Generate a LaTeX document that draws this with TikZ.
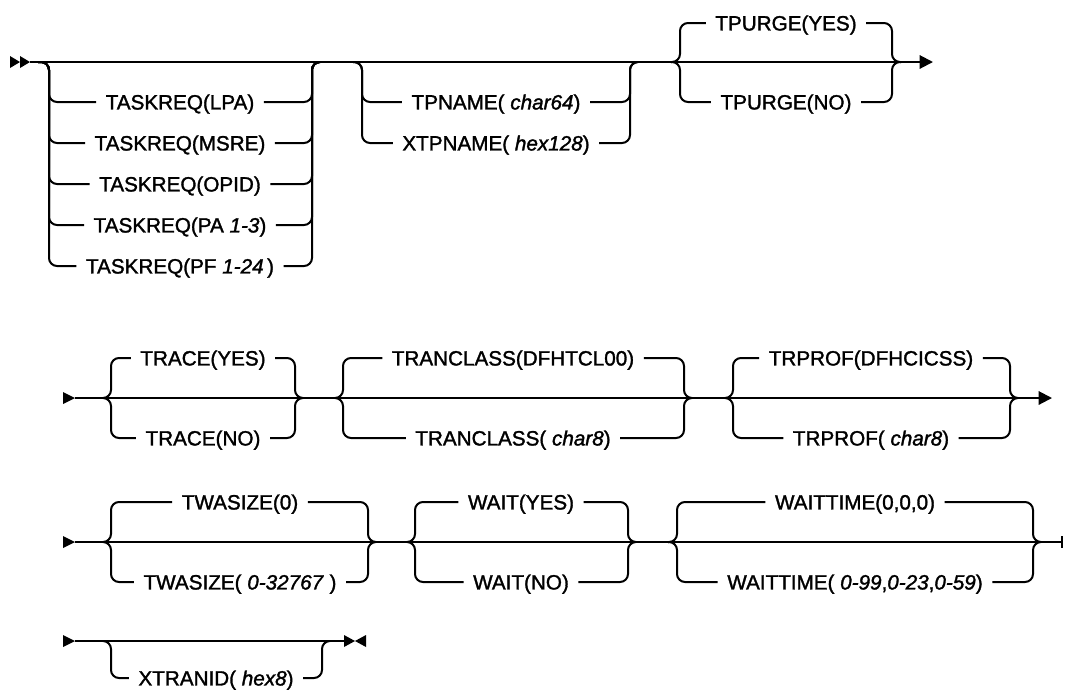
\documentclass[tikz,border=0pt]{standalone}
\usepackage{fontspec}
\setmainfont{Liberation Sans}[FakeBold=1.5]
\usepackage{tikz}
\usetikzlibrary{
  arrows.meta,  % Triangle 箭头
  calc          % 坐标计算
}
\tikzset{
  rail/.style={
    line width=1.5pt,
    rounded corners=6pt
  },
  rail end/.style={
    -{Triangle[length=10pt,width=10pt]}
  },
  choice/.style={
    inner xsep=7pt,
    inner ysep=0pt,
    text height=11.2pt,
    text depth=0pt,
    font=\fontsize{15.5}{18}\selectfont
  }
}

\begin{document}
\begin{tikzpicture}[x=0.75pt, y=-0.75pt]
    \useasboundingbox (0,0) rectangle (1066,690);

    % 1. 第一行：TASKREQ / TPNAME / TPURGE
    \coordinate (r1s) at (30,62);
    \coordinate (r1e) at (933,62);
    \fill (r1s) -- ++(-10,-6) -- ++(0,12) -- cycle;
    \fill ($(r1s)+(-10,0)$) -- ++(-10,-6) -- ++(0,12) -- cycle;
    \draw[rail, rail end] (r1s) -- (r1e);

    % 可选组 TASKREQ (主线下方)
    \coordinate (g1L) at (38,62);  \coordinate (g1l) at (49,62);
    \coordinate (g1r) at (312,62); \coordinate (g1R) at (320,62);
    \node[choice] (lpa)  at (180,102) {TASKREQ(LPA)};
    \node[choice] (msre) at (180,143) {TASKREQ(MSRE)};
    \node[choice] (opid) at (180,184) {TASKREQ(OPID)};
    \node[choice] (pa)   at (180,225) {TASKREQ(PA~\textit{1-3})};
    \node[choice] (pf)   at (180,266) {TASKREQ(PF~\textit{1-24}\,)};
    \draw[rail] (g1L) -| (g1l |- lpa) -- (lpa.west) (lpa.east) -| (g1r) -- (g1R);
    \draw[rail] (g1L) -| (g1l |- msre) -- (msre.west) (msre.east) -| (g1r) -- (g1R);
    \draw[rail] (g1L) -| (g1l |- opid) -- (opid.west) (opid.east) -| (g1r) -- (g1R);
    \draw[rail] (g1L) -| (g1l |- pa) -- (pa.west) (pa.east) -| (g1r) -- (g1R);
    \draw[rail] (g1L) -| (g1l |- pf) -- (pf.west) (pf.east) -| (g1r) -- (g1R);

    % 可选组 TPNAME
    \coordinate (g2L) at (353,62); \coordinate (g2l) at (362,62);
    \coordinate (g2r) at (630,62); \coordinate (g2R) at (638,62);
    \node[choice] (tpname)  at (496,102) {TPNAME( \textit{char64})};
    \node[choice] (xtpname) at (496,143) {XTPNAME( \textit{hex128})};
    \draw[rail] (g2L) -| (g2l |- tpname) -- (tpname.west) (tpname.east) -| (g2r) -- (g2R);
    \draw[rail] (g2L) -| (g2l |- xtpname) -- (xtpname.west) (xtpname.east) -| (g2r) -- (g2R);

    % 默认值组 TPURGE (主线上方为默认)
    \coordinate (g3L) at (671,62); \coordinate (g3l) at (680,62);
    \coordinate (g3r) at (892,62); \coordinate (g3R) at (901,62);
    \node[choice] (tpyes) at (786,23)  {TPURGE(YES)};
    \node[choice] (tpno)  at (786,102) {TPURGE(NO)};
    \draw[rail] (g3L) -| (g3l |- tpyes) -- (tpyes.west) (tpyes.east) -| (g3r) -- (g3R);
    \draw[rail] (g3L) -| (g3l |- tpno) -- (tpno.west) (tpno.east) -| (g3r) -- (g3R);

    % 2. 第二行：TRACE / TRANCLASS / TRPROF
    \coordinate (r2s) at (75,398);
    \coordinate (r2e) at (1052,398);
    \fill (r2s) -- ++(-12,-6) -- ++(0,12) -- cycle;
    \draw[rail, rail end] (r2s) -- (r2e);

    \coordinate (g4L) at (103,398); \coordinate (g4l) at (111,398);
    \coordinate (g4r) at (295,398); \coordinate (g4R) at (303,398);
    \node[choice] (tryes) at (203,358) {TRACE(YES)};
    \node[choice] (trno)  at (203,438) {TRACE(NO)};
    \draw[rail] (g4L) -| (g4l |- tryes) -- (tryes.west) (tryes.east) -| (g4r) -- (g4R);
    \draw[rail] (g4L) -| (g4l |- trno) -- (trno.west) (trno.east) -| (g4r) -- (g4R);

    \coordinate (g5L) at (335,398); \coordinate (g5l) at (343,398);
    \coordinate (g5r) at (684,398); \coordinate (g5R) at (692,398);
    \node[choice] (tcdef) at (513,358) {TRANCLASS(DFHTCL00)};
    \node[choice] (tcvar) at (513,438) {TRANCLASS( \textit{char8})};
    \draw[rail] (g5L) -| (g5l |- tcdef) -- (tcdef.west) (tcdef.east) -| (g5r) -- (g5R);
    \draw[rail] (g5L) -| (g5l |- tcvar) -- (tcvar.west) (tcvar.east) -| (g5r) -- (g5R);

    \coordinate (g6L) at (725,398); \coordinate (g6l) at (733,398);
    \coordinate (g6r) at (1010,398); \coordinate (g6R) at (1018,398);
    \node[choice] (tpdef) at (871,358) {TRPROF(DFHCICSS)};
    \node[choice] (tpvar) at (871,438) {TRPROF( \textit{char8})};
    \draw[rail] (g6L) -| (g6l |- tpdef) -- (tpdef.west) (tpdef.east) -| (g6r) -- (g6R);
    \draw[rail] (g6L) -| (g6l |- tpvar) -- (tpvar.west) (tpvar.east) -| (g6r) -- (g6R);

    % 3. 第三行：TWASIZE / WAIT / WAITTIME
    \coordinate (r3s) at (75,542);
    \coordinate (r3e) at (1062,542);
    \fill (r3s) -- ++(-12,-6) -- ++(0,12) -- cycle;
    \draw[rail] (r3s) -- (r3e);
    \draw[rail] (r3e) ++(0,-6) -- ++(0,12);

    \coordinate (g7L) at (103,542); \coordinate (g7l) at (111,542);
    \coordinate (g7r) at (368,542); \coordinate (g7R) at (376,542);
    \node[choice] (twdef) at (240,502) {TWASIZE(0)};
    \node[choice] (twvar) at (240,582) {TWASIZE( \textit{0-32767} )};
    \draw[rail] (g7L) -| (g7l |- twdef) -- (twdef.west) (twdef.east) -| (g7r) -- (g7R);
    \draw[rail] (g7L) -| (g7l |- twvar) -- (twvar.west) (twvar.east) -| (g7r) -- (g7R);

    \coordinate (g8L) at (407,542); \coordinate (g8l) at (415,542);
    \coordinate (g8r) at (628,542); \coordinate (g8R) at (636,542);
    \node[choice] (wyes) at (521,502) {WAIT(YES)};
    \node[choice] (wno)  at (521,582) {WAIT(NO)};
    \draw[rail] (g8L) -| (g8l |- wyes) -- (wyes.west) (wyes.east) -| (g8r) -- (g8R);
    \draw[rail] (g8L) -| (g8l |- wno) -- (wno.west) (wno.east) -| (g8r) -- (g8R);

    \coordinate (g9L) at (668,542); \coordinate (g9l) at (677,542);
    \coordinate (g9r) at (1033,542); \coordinate (g9R) at (1041,542);
    \node[choice] (wtdef) at (855,502) {WAITTIME(0,0,0)};
    \node[choice] (wtvar) at (855,582) {WAITTIME( \textit{0-99},\textit{0-23},\textit{0-59})};
    \draw[rail] (g9L) -| (g9l |- wtdef) -- (wtdef.west) (wtdef.east) -| (g9r) -- (g9R);
    \draw[rail] (g9L) -| (g9l |- wtvar) -- (wtvar.west) (wtvar.east) -| (g9r) -- (g9R);

    % 4. 第四行：XTRANID，结束符
    \coordinate (r4s) at (75,641);
    \coordinate (r4e) at (344,641);
    \fill (r4s) -- ++(-12,-6) -- ++(0,12) -- cycle;
    \draw[rail] (r4s) -- (r4e);
    \fill (r4e) -- ++(0,-6) -- ++(11,6) -- ++(-11,6) -- cycle;
    \fill ($(r4e)+(22,0)$) -- ++(0,-6) -- ++(-11,6) -- ++(11,6) -- cycle;

    \coordinate (g10L) at (103,641); \coordinate (g10l) at (111,641);
    \coordinate (g10r) at (322,641); \coordinate (g10R) at (330,641);
    \node[choice] (xtran) at (216,678) {XTRANID( \textit{hex8})};
    \draw[rail] (g10L) -| (g10l |- xtran) -- (xtran.west) (xtran.east) -| (g10r) -- (g10R);

\end{tikzpicture}
\end{document}
